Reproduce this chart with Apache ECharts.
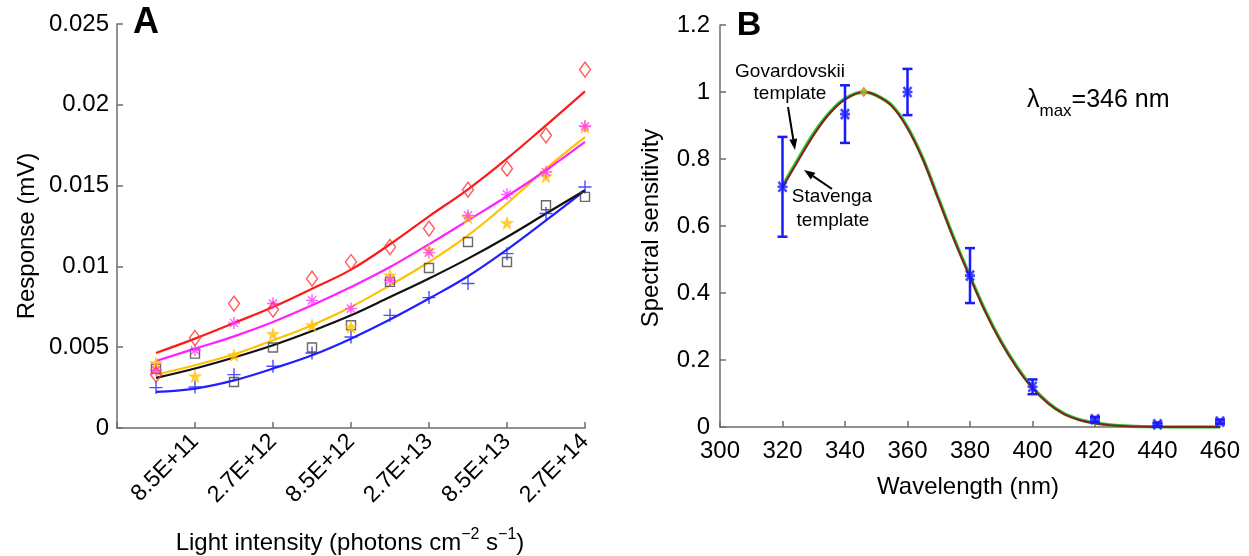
<!DOCTYPE html>
<html>
<head>
<meta charset="utf-8">
<script src="https://cdn.jsdelivr.net/npm/echarts@6.0.0/dist/echarts.min.js"></script>
<style>
  html, body { margin: 0; padding: 0; background: #ffffff; }
  #chart { width: 1249px; height: 556px; }
</style>
</head>
<body>
<div id="chart"></div>
<script>
// ---- Panel A: response vs light intensity (12 steps, 0.25 log units apart) ----
const intensityTickLabels = ['8.5E+11', '2.7E+12', '8.5E+12', '2.7E+13', '8.5E+13', '2.7E+14'];

const respRed     = [0.0033, 0.00557, 0.0077, 0.00733, 0.00924, 0.01027, 0.0112, 0.01234, 0.01475, 0.01605, 0.01811, 0.02218];
const fitRed      = [0.00464, 0.00553, 0.0065, 0.00749, 0.00862, 0.0098, 0.01137, 0.0131, 0.01477, 0.01667, 0.01873, 0.02083];
const respMagenta = [0.00357, 0.00481, 0.0065, 0.0077, 0.0079, 0.00739, 0.00914, 0.01085, 0.01316, 0.01446, 0.01584, 0.01867];
const fitMagenta  = [0.00415, 0.00491, 0.00567, 0.00656, 0.00759, 0.00872, 0.00996, 0.01137, 0.01285, 0.01434, 0.01595, 0.0177];
const respYellow  = [0.00402, 0.0032, 0.0045, 0.00582, 0.00636, 0.00625, 0.00945, 0.011, 0.01302, 0.01269, 0.01557, 0.01863];
const fitYellow   = [0.0033, 0.00388, 0.00456, 0.00543, 0.00636, 0.00749, 0.00883, 0.01027, 0.01192, 0.01389, 0.01605, 0.018];
const respBlack   = [0.00367, 0.0046, 0.00285, 0.00498, 0.00498, 0.00636, 0.00904, 0.0099, 0.01151, 0.01027, 0.01378, 0.0143];
const fitBlack    = [0.0031, 0.00368, 0.00436, 0.00512, 0.006, 0.00697, 0.0081, 0.00925, 0.01048, 0.01182, 0.01327, 0.01471];
const respBlue    = [0.0025, 0.00254, 0.0033, 0.00382, 0.00464, 0.00563, 0.00697, 0.00807, 0.00894, 0.01079, 0.01327, 0.01491];
const fitBlue     = [0.00223, 0.00244, 0.00295, 0.00368, 0.0045, 0.00553, 0.00671, 0.00801, 0.00939, 0.01104, 0.01285, 0.01471];

// ---- Panel B: spectral sensitivity ----
const wavelengths    = [320, 340, 360, 380, 400, 420, 440, 460];
const sensitivity    = [0.717, 0.934, 1.0, 0.452, 0.12, 0.023, 0.008, 0.016];
const sensitivityErr = [0.149, 0.086, 0.069, 0.082, 0.022, 0.007, 0.005, 0.006];

const templateWavelengths = [320, 325, 330, 335, 340, 346, 350, 355, 360, 365, 370, 375, 380, 385, 390, 395, 400, 405, 410, 415, 420, 425, 430, 435, 440, 450, 460];
const govardovskii = [0.72, 0.80, 0.877, 0.938, 0.98, 1.0, 0.99, 0.96, 0.895, 0.80, 0.68, 0.56, 0.45, 0.345, 0.255, 0.18, 0.118, 0.072, 0.04, 0.022, 0.012, 0.006, 0.003, 0.001, 0.0005, 0, 0];
const stavenga     = [0.715, 0.795, 0.872, 0.935, 0.978, 1.0, 0.99, 0.958, 0.892, 0.797, 0.677, 0.557, 0.447, 0.342, 0.252, 0.177, 0.116, 0.071, 0.039, 0.021, 0.011, 0.005, 0.002, 0.001, 0, 0, 0];
const lambdaMax = 346;

const FONT = '"Liberation Sans", Arial, sans-serif';
const AXIS_GREY = '#6e6e6e';

const SYM_PLUS = 'path://M0,5L10,5M5,0L5,10';
const SYM_ASTERISK = 'path://M0,5L10,5M5,0L5,10M1.6,1.6L8.4,8.4M1.6,8.4L8.4,1.6';
const SYM_STAR = 'path://M5,0L6.18,3.62L10,3.62L6.91,5.87L8.09,9.5L5,7.26L1.91,9.5L3.09,5.87L0,3.62L3.82,3.62Z';
const SYM_X = 'path://M1,1L9,9M1,9L9,1M0,5L10,5';

const toPoints = arr => arr.map((v, i) => [i + 1, v]);
const toXY = (xs, ys) => xs.map((x, i) => [x, ys[i]]);

function axisCommon() {
  return {
    axisLine: { show: true, lineStyle: { color: AXIS_GREY, width: 1.5 } },
    axisTick: { show: true, inside: true, length: 6, lineStyle: { color: AXIS_GREY, width: 1.5 } },
    splitLine: { show: false },
    axisLabel: { color: '#000', fontSize: 24, fontFamily: FONT }
  };
}

function fitLine(data, color) {
  return {
    type: 'line', xAxisIndex: 0, yAxisIndex: 0, data: toPoints(data),
    showSymbol: false, smooth: 0.4, silent: true,
    lineStyle: { color, width: 2.2 }, z: 2
  };
}
function markers(data, symbol, size, style) {
  return {
    type: 'scatter', xAxisIndex: 0, yAxisIndex: 0, data: toPoints(data),
    symbol, symbolSize: size, silent: true, itemStyle: style, z: 3
  };
}

function arrow(x1, y1, x2, y2) {
  const ang = Math.atan2(y2 - y1, x2 - x1);
  const L = 11, W = 4;
  const bx = x2 - L * Math.cos(ang), by = y2 - L * Math.sin(ang);
  const px = -Math.sin(ang) * W, py = Math.cos(ang) * W;
  return [
    { type: 'line', shape: { x1, y1, x2: bx, y2: by }, style: { stroke: '#000', lineWidth: 2 }, z: 10 },
    { type: 'polygon', shape: { points: [[x2, y2], [bx + px, by + py], [bx - px, by - py]] }, style: { fill: '#000' }, z: 10 }
  ];
}

const chart = echarts.init(document.getElementById('chart'), null, { renderer: 'canvas' });

const option = {
  animation: false,
  backgroundColor: '#ffffff',
  grid: [
    { left: 117, top: 24, width: 468, height: 404 },
    { left: 720, top: 25, width: 500, height: 402 }
  ],
  xAxis: [
    Object.assign(axisCommon(), {
      type: 'value', gridIndex: 0, min: 0, max: 12, interval: 2,
      axisLabel: {
        color: '#000', fontSize: 23, fontFamily: FONT, rotate: 45, margin: 10,
        formatter: v => (v >= 2 ? intensityTickLabels[v / 2 - 1] : '')
      }
    }),
    Object.assign(axisCommon(), {
      type: 'value', gridIndex: 1, min: 300, max: 460, interval: 20,
      axisLabel: { color: '#000', fontSize: 24, fontFamily: FONT, margin: 12 }
    })
  ],
  yAxis: [
    Object.assign(axisCommon(), {
      type: 'value', gridIndex: 0, min: 0, max: 0.025, interval: 0.005,
      axisLabel: { color: '#000', fontSize: 24, fontFamily: FONT, margin: 8 }
    }),
    Object.assign(axisCommon(), {
      type: 'value', gridIndex: 1, min: 0, max: 1.2, interval: 0.2,
      axisLabel: { color: '#000', fontSize: 24, fontFamily: FONT, margin: 10 }
    })
  ],
  series: [
    fitLine(fitBlue, '#1f1fff'),
    fitLine(fitBlack, '#111111'),
    fitLine(fitYellow, '#ffc200'),
    fitLine(fitMagenta, '#ff22ff'),
    fitLine(fitRed, '#ff1a1a'),
    markers(respBlue, SYM_PLUS, 13, { color: 'none', borderColor: '#1f1fff', borderWidth: 1.4 }),
    markers(respBlack, 'rect', 9, { color: 'none', borderColor: '#444444', borderWidth: 1.4 }),
    markers(respYellow, SYM_STAR, 13, { color: '#ffc200', borderColor: '#ffc200', borderWidth: 0.5 }),
    markers(respMagenta, SYM_ASTERISK, 12, { color: 'none', borderColor: '#ff33ff', borderWidth: 1.4 }),
    markers(respRed, 'diamond', [11, 15], { color: 'none', borderColor: '#ff3030', borderWidth: 1.4 }),

    // Panel B templates
    {
      type: 'line', xAxisIndex: 1, yAxisIndex: 1, data: toXY(templateWavelengths, govardovskii),
      showSymbol: false, smooth: 0.3, silent: true, lineStyle: { color: '#28d028', width: 3.4 }, z: 2
    },
    {
      type: 'line', xAxisIndex: 1, yAxisIndex: 1, data: toXY(templateWavelengths, stavenga),
      showSymbol: false, smooth: 0.3, silent: true, lineStyle: { color: '#8e1a2a', width: 2 }, z: 3
    },
    {
      type: 'scatter', xAxisIndex: 1, yAxisIndex: 1, data: [[lambdaMax, 1.0]],
      symbol: 'diamond', symbolSize: [7, 9], silent: true,
      itemStyle: { color: '#8fd02a', borderColor: '#e06a20', borderWidth: 1 }, z: 4
    },
    // Error bars
    {
      type: 'custom', xAxisIndex: 1, yAxisIndex: 1, silent: true, z: 5,
      data: wavelengths.map((w, i) => [w, sensitivity[i], sensitivityErr[i]]),
      renderItem(params, api) {
        const x = api.value(0), y = api.value(1), e = api.value(2);
        const top = api.coord([x, y + e]);
        const bot = api.coord([x, y - e]);
        const hw = 5;
        const st = { stroke: '#1a1aff', lineWidth: 2.5 };
        return {
          type: 'group',
          children: [
            { type: 'line', shape: { x1: top[0], y1: top[1], x2: bot[0], y2: bot[1] }, style: st },
            { type: 'line', shape: { x1: top[0] - hw, y1: top[1], x2: top[0] + hw, y2: top[1] }, style: st },
            { type: 'line', shape: { x1: bot[0] - hw, y1: bot[1], x2: bot[0] + hw, y2: bot[1] }, style: st }
          ]
        };
      }
    },
    {
      type: 'scatter', xAxisIndex: 1, yAxisIndex: 1, data: toXY(wavelengths, sensitivity),
      symbol: SYM_X, symbolSize: 10, silent: true,
      itemStyle: { color: 'none', borderColor: '#1a1aff', borderWidth: 2.6 }, z: 6
    }
  ],
  graphic: [
    // panel letters
    { type: 'text', x: 146, y: 23, style: { text: 'A', font: 'bold 36px ' + FONT, fill: '#000', align: 'center', verticalAlign: 'middle' } },
    { type: 'text', x: 749, y: 26, style: { text: 'B', font: 'bold 34px ' + FONT, fill: '#000', align: 'center', verticalAlign: 'middle' } },
    // axis titles
    { type: 'text', x: 27, y: 236, rotation: Math.PI / 2, style: { text: 'Response (mV)', font: '24px ' + FONT, fill: '#000', align: 'center', verticalAlign: 'middle' } },
    {
      type: 'text', x: 350, y: 540,
      style: {
        text: '{m|Light intensity (photons cm}{s|−2}{m| s}{s|−1}{m|)}',
        align: 'center', verticalAlign: 'middle',
        rich: {
          m: { font: '24px ' + FONT, fill: '#000', lineHeight: 30, verticalAlign: 'bottom' },
          s: { font: '16px ' + FONT, fill: '#000', lineHeight: 30, verticalAlign: 'top', padding: [2, 0, 0, 0] }
        }
      }
    },
    { type: 'text', x: 651, y: 228, rotation: Math.PI / 2, style: { text: 'Spectral sensitivity', font: '24px ' + FONT, fill: '#000', align: 'center', verticalAlign: 'middle' } },
    { type: 'text', x: 968, y: 487, style: { text: 'Wavelength (nm)', font: '24px ' + FONT, fill: '#000', align: 'center', verticalAlign: 'middle' } },
    // annotations
    { type: 'text', x: 790, y: 72, style: { text: 'Govardovskii', font: '19px ' + FONT, fill: '#000', align: 'center', verticalAlign: 'middle' }, z: 10 },
    { type: 'text', x: 790, y: 94, style: { text: 'template', font: '19px ' + FONT, fill: '#000', align: 'center', verticalAlign: 'middle' }, z: 10 },
    { type: 'text', x: 832, y: 197, style: { text: 'Stavenga', font: '19px ' + FONT, fill: '#000', align: 'center', verticalAlign: 'middle' }, z: 10 },
    { type: 'text', x: 833, y: 221, style: { text: 'template', font: '19px ' + FONT, fill: '#000', align: 'center', verticalAlign: 'middle' }, z: 10 },
    ...arrow(788, 107, 795, 150),
    ...arrow(832, 189, 804, 170),
    {
      type: 'text', x: 1027, y: 104,
      style: {
        text: '{m|λ}{s|max}{m|=346 nm}',
        align: 'left', verticalAlign: 'middle',
        rich: {
          m: { font: '25px ' + FONT, fill: '#000', lineHeight: 32, verticalAlign: 'top' },
          s: { font: '17px ' + FONT, fill: '#000', lineHeight: 32, verticalAlign: 'bottom' }
        }
      }
    }
  ]
};

chart.setOption(option);
</script>
</body>
</html>
